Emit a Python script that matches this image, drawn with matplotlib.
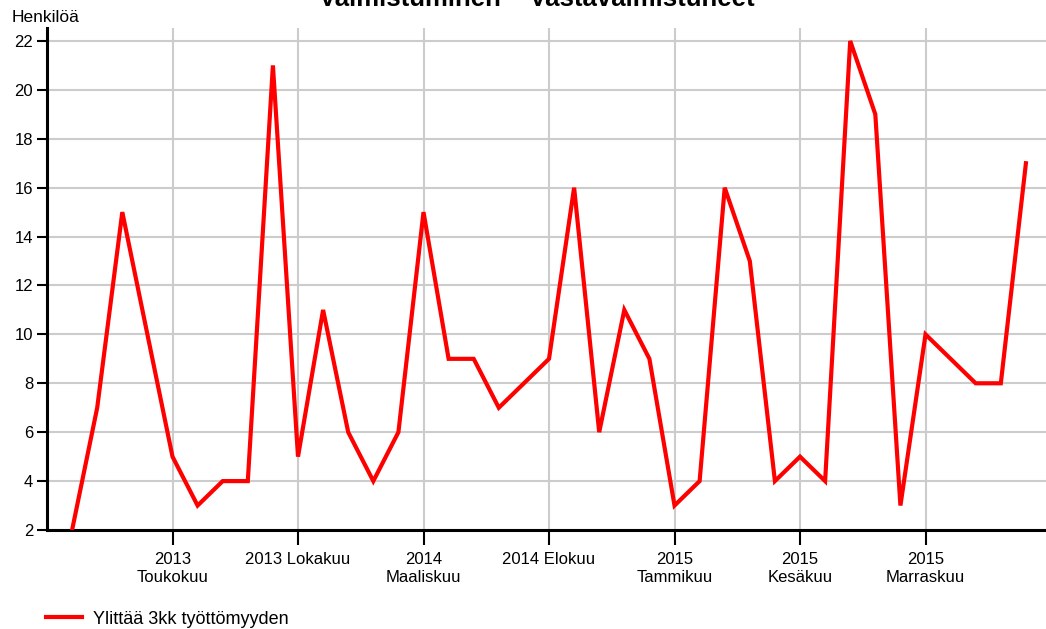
import numpy as np
import matplotlib.pyplot as plt

plt.rcParams['font.family'] = ['Liberation Sans', 'DejaVu Sans']

# monthly values, Jan 2013 .. Mar 2016
values = [2, 7, 15, 10, 5, 3, 4, 4, 21, 5, 11, 6,
          4, 6, 15, 9, 9, 7, 8, 9, 16, 6, 11, 9,
          3, 4, 16, 13, 4, 5, 4, 22, 19, 3, 10, 9,
          8, 8, 17]
tick_idx = [4, 9, 14, 19, 24, 29, 34]
tick_labels = ['2013\nToukokuu', '2013 Lokakuu', '2014\nMaaliskuu', '2014 Elokuu',
               '2015\nTammikuu', '2015\nKesäkuu', '2015\nMarraskuu']
series_name = 'Ylittää 3kk työttömyyden'

fig = plt.figure(figsize=(10.46, 6.29), dpi=100)
ax = fig.add_axes([47/1046, 1 - 530/629, 1 - 47/1046, (530 - 28)/629])

x = np.arange(len(values))
line, = ax.plot(x, values, color='#ff0000', lw=3, solid_joinstyle='miter', zorder=3,
                label=series_name)

ax.set_xlim(-1, 38.8)
ax.set_ylim(2, 22.53)
ax.set_yticks(range(2, 23, 2))
ax.set_xticks(tick_idx)
ax.set_xticklabels(tick_labels, fontsize=12, linespacing=1.25)
ax.tick_params(axis='y', labelsize=12, length=7, width=1.5, pad=3)
ax.tick_params(axis='x', length=11, width=1.5, pad=5)

ax.grid(True, color='#cccccc', lw=1.5, zorder=0)
ax.set_axisbelow(True)
for s in ['top', 'right']:
    ax.spines[s].set_visible(False)
ax.spines['left'].set_linewidth(2.2)
ax.spines['bottom'].set_linewidth(2.2)
ax.spines['left'].set_bounds(2, 22.53)

fig.text(12/1046, 1 - 22/629, 'Henkilöä', fontsize=12.5, ha='left', va='baseline')
# title sits mostly above the canvas, as in the source image
fig.text(537/1046, 1 - 6/629, 'Valmistuminen – Vastavalmistuneet', fontsize=18.5,
         fontweight='bold', ha='center', va='baseline')

fig.legend(handles=[line], loc='center left', bbox_to_anchor=(46/1046, 1 - 619/629),
           frameon=False, fontsize=13, handlelength=2.0, handletextpad=0.6,
           borderaxespad=0, borderpad=0)

fig.savefig('out.png', dpi=100)
